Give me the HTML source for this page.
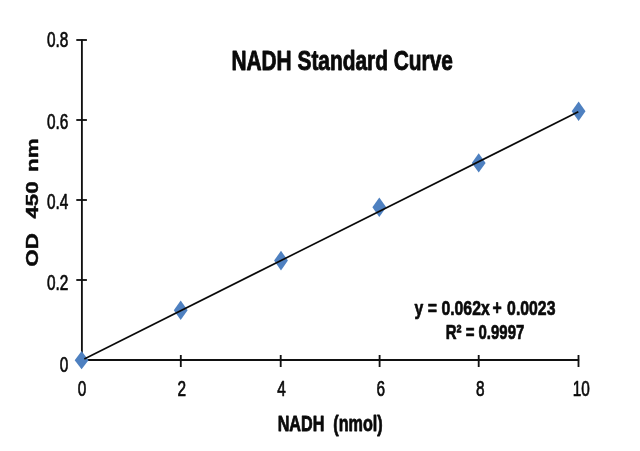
<!DOCTYPE html>
<html lang="en">
<head>
<meta charset="utf-8">
<title>NADH Standard Curve</title>
<style>
html,body{margin:0;padding:0;background:#fff;}
body{width:640px;height:451px;overflow:hidden;}
svg{display:block;}
text{font-family:"Liberation Sans",Arial,Helvetica,sans-serif;fill:#0a0a0a;stroke:#0a0a0a;stroke-width:0.7px;stroke-linejoin:round;}
.b{font-weight:bold;stroke-width:0.45px;}
.t{stroke-width:0.9px;}
.xt{stroke-width:0.8px;}
.eq{stroke-width:0.7px;}
</style>
</head>
<body>
<svg width="640" height="451" viewBox="0 0 640 451">
<rect x="0" y="0" width="640" height="451" fill="#ffffff"/>
<g stroke="#111" stroke-width="1.85" fill="none" shape-rendering="auto"><line x1="81.9" y1="39.4" x2="81.9" y2="360.0"/><line x1="81.9" y1="360.0" x2="579.1" y2="360.0"/><line x1="76.3" y1="360.0" x2="86.9" y2="360.0"/>
<line x1="76.3" y1="280.0" x2="86.9" y2="280.0"/>
<line x1="76.3" y1="200.0" x2="86.9" y2="200.0"/>
<line x1="76.3" y1="120.0" x2="86.9" y2="120.0"/>
<line x1="76.3" y1="40.0" x2="86.9" y2="40.0"/>
<line x1="81.90" y1="355.0" x2="81.90" y2="367.0"/>
<line x1="180.80" y1="355.0" x2="180.80" y2="367.0"/>
<line x1="280.70" y1="355.0" x2="280.70" y2="367.0"/>
<line x1="379.60" y1="355.0" x2="379.60" y2="367.0"/>
<line x1="478.70" y1="355.0" x2="478.70" y2="367.0"/>
<line x1="578.50" y1="355.0" x2="578.50" y2="367.0"/>
</g>
<g fill="#4e80c0"><polygon points="81.6,351.1 88.5,360.2 81.6,369.3 74.7,360.2"/>
<polygon points="180.7,300.6 187.6,310.3 180.7,320.0 173.8,310.3"/>
<polygon points="281.0,250.8 287.9,260.6 281.0,270.4 274.1,260.6"/>
<polygon points="379.3,197.5 386.2,207.3 379.3,217.1 372.4,207.3"/>
<polygon points="478.7,153.2 485.6,162.9 478.7,172.6 471.8,162.9"/>
<polygon points="578.6,101.5 585.5,111.2 578.6,120.9 571.7,111.2"/>
</g>
<line x1="84.3" y1="358.9" x2="578.3" y2="111.85" stroke="#0a0a0a" stroke-width="1.65"/>
<text transform="translate(68.4,371.8) scale(0.7,1)" font-size="22" text-anchor="end">0</text>
<text transform="translate(68.4,290.3) scale(0.7,1)" font-size="22" text-anchor="end">0.2</text>
<text transform="translate(68.4,209.0) scale(0.7,1)" font-size="22" text-anchor="end">0.4</text>
<text transform="translate(68.4,129.2) scale(0.7,1)" font-size="22" text-anchor="end">0.6</text>
<text transform="translate(68.4,47.1) scale(0.7,1)" font-size="22" text-anchor="end">0.8</text>
<text transform="translate(82.1,396.4) scale(0.7,1)" font-size="22" text-anchor="middle">0</text>
<text transform="translate(181.8,396.4) scale(0.7,1)" font-size="22" text-anchor="middle">2</text>
<text transform="translate(281.5,396.4) scale(0.7,1)" font-size="22" text-anchor="middle">4</text>
<text transform="translate(380.7,396.4) scale(0.7,1)" font-size="22" text-anchor="middle">6</text>
<text transform="translate(480.2,396.4) scale(0.7,1)" font-size="22" text-anchor="middle">8</text>
<text transform="translate(581.3,396.4) scale(0.7,1)" font-size="22" text-anchor="middle">10</text>

<text class="b t" transform="translate(231.4,70.3) scale(0.759,1)" font-size="27.5">NADH Standard Curve</text>
<text class="b xt" xml:space="preserve" transform="translate(277.7,431.1) scale(0.735,1)" font-size="22">NADH  (nmol)</text>
<text class="b" xml:space="preserve" transform="translate(38.3,266.7) rotate(-90) scale(1.315,1)" font-size="17">OD  <tspan x="36.58">450 </tspan><tspan x="72.09">nm</tspan></text>
<text class="b eq" transform="translate(485,315.3) scale(0.771,1)" font-size="20.5" text-anchor="middle">y = 0.062x<tspan dx="-2.1"> +</tspan><tspan dx="1.3"> 0.0023</tspan></text>
<text class="b eq" transform="translate(485,339.2) scale(0.73,1)" font-size="20.5" text-anchor="middle">R² = 0.9997</text>
</svg>
</body>
</html>
